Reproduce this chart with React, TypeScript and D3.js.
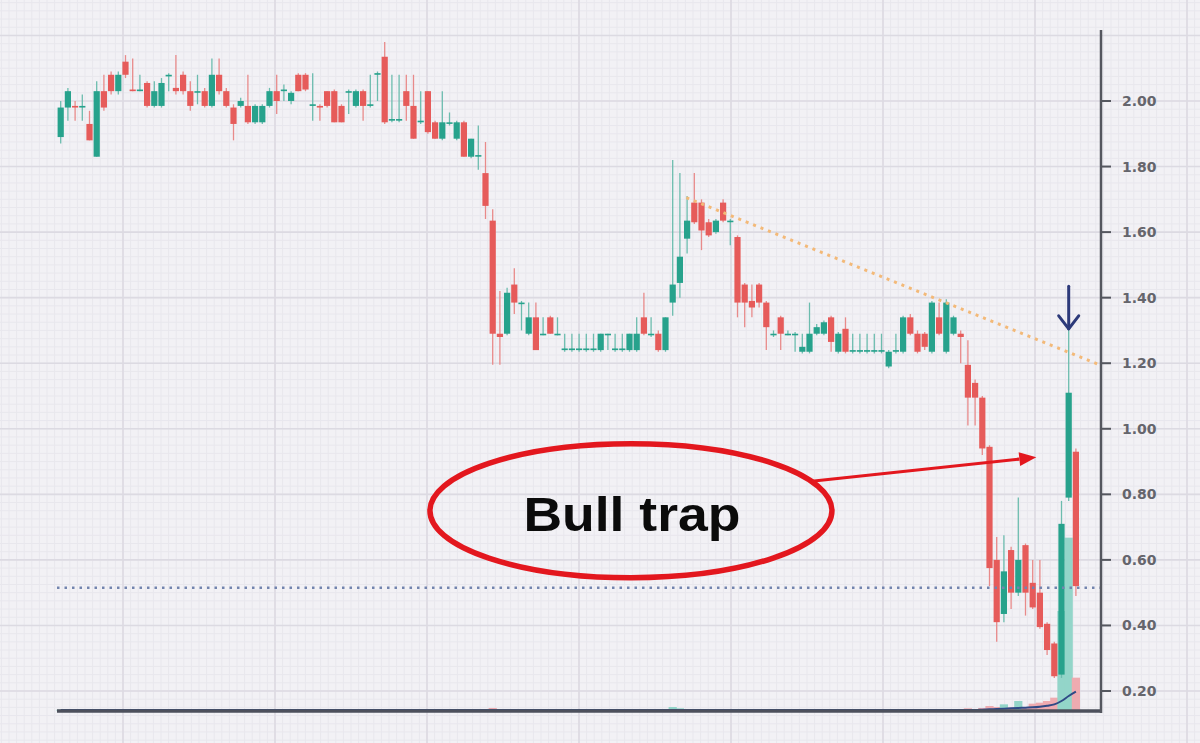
import * as d3 from "d3";

// one entry per trading day (index only, no dates on the chart)
const days = d3.range(142);

const opens = [
  1.89, 1.98, 1.985, 1.98, 1.93, 1.83, 2.03, 2.08, 2.03, 2.12,
  2.035, 2.03, 2.055, 1.985, 1.985, 2.075, 2.04, 2.08, 2.03, 2.03,
  2.03, 1.985, 2.08, 2.03, 1.98, 1.985, 1.985, 1.935, 1.935, 1.985,
  2.03, 2.03, 2.0, 2.08, 2.08, 1.985, 1.985, 2.03, 2.03, 1.985,
  2.03, 1.985, 2.03, 1.985, 2.08, 2.135, 1.94, 1.94, 2.03, 1.985,
  1.935, 2.03, 1.935, 1.885, 1.935, 1.885, 1.935, 1.83, 1.835, 1.78,
  1.635, 1.29, 1.29, 1.44, 1.385, 1.29, 1.34, 1.29, 1.34, 1.29,
  1.24, 1.24, 1.24, 1.24, 1.24, 1.24, 1.29, 1.24, 1.24, 1.24,
  1.24, 1.34, 1.29, 1.29, 1.24, 1.385, 1.445, 1.58, 1.69, 1.69,
  1.63, 1.6, 1.69, 1.635, 1.585, 1.44, 1.39, 1.44, 1.385, 1.29,
  1.34, 1.29, 1.29, 1.235, 1.235, 1.29, 1.29, 1.34, 1.235, 1.305,
  1.235, 1.235, 1.235, 1.235, 1.235, 1.19, 1.235, 1.235, 1.34, 1.29,
  1.29, 1.235, 1.34, 1.235, 1.29, 1.29, 1.195, 1.14, 1.095, 0.945,
  0.6, 0.435, 0.63, 0.5, 0.645, 0.53, 0.5, 0.405, 0.345, 0.25, 0.79, 0.93,
];
const highs = [
  2.0, 2.04, 2.0, 2.02, 1.97, 2.06, 2.08, 2.09, 2.09, 2.14,
  2.13, 2.08, 2.06, 2.06, 2.07, 2.085, 2.14, 2.09, 2.06, 2.08,
  2.04, 2.13, 2.13, 2.04, 1.99, 2.01, 2.08, 1.99, 1.99, 2.04,
  2.08, 2.05, 2.03, 2.085, 2.085, 2.085, 1.99, 2.03, 2.035, 1.99,
  2.035, 2.035, 2.035, 2.08, 2.09, 2.18, 2.08, 2.08, 2.08, 2.08,
  2.03, 2.03, 1.94, 2.03, 1.965, 1.94, 1.94, 1.885, 1.925, 1.875,
  1.67, 1.42, 1.43, 1.49, 1.39, 1.385, 1.385, 1.34, 1.345, 1.34,
  1.29, 1.29, 1.29, 1.29, 1.29, 1.29, 1.29, 1.29, 1.29, 1.29,
  1.34, 1.415, 1.34, 1.3, 1.34, 1.82, 1.78, 1.71, 1.78, 1.7,
  1.64, 1.64, 1.7, 1.64, 1.59, 1.445, 1.44, 1.445, 1.39, 1.3,
  1.345, 1.3, 1.295, 1.29, 1.385, 1.32, 1.33, 1.345, 1.295, 1.34,
  1.29, 1.29, 1.29, 1.29, 1.29, 1.24, 1.29, 1.345, 1.35, 1.3,
  1.295, 1.39, 1.385, 1.395, 1.345, 1.3, 1.27, 1.15, 1.1, 0.95,
  0.67, 0.675, 0.64, 0.79, 0.65, 0.6, 0.6, 0.41, 0.35, 0.78, 1.43, 0.94,
];
const lows = [
  1.87, 1.94, 1.94, 1.94, 1.88, 1.83, 1.97, 2.02, 2.02, 2.07,
  2.03, 2.03, 1.98, 1.98, 1.98, 2.03, 2.02, 2.02, 1.97, 1.99,
  1.98, 1.98, 2.02, 1.98, 1.88, 1.98, 1.93, 1.93, 1.93, 1.98,
  1.96, 2.0, 1.99, 2.03, 2.03, 1.94, 1.94, 1.98, 1.935, 1.935,
  1.96, 1.98, 1.94, 1.98, 2.0, 1.93, 1.935, 1.935, 1.94, 1.885,
  1.93, 1.9, 1.885, 1.88, 1.925, 1.88, 1.83, 1.825, 1.79, 1.64,
  1.195, 1.195, 1.285, 1.35, 1.3, 1.285, 1.24, 1.285, 1.29, 1.285,
  1.235, 1.235, 1.235, 1.235, 1.235, 1.235, 1.24, 1.235, 1.235, 1.235,
  1.235, 1.285, 1.28, 1.235, 1.235, 1.345, 1.4, 1.535, 1.625, 1.545,
  1.585, 1.595, 1.63, 1.56, 1.34, 1.31, 1.34, 1.37, 1.24, 1.28,
  1.24, 1.285, 1.235, 1.23, 1.23, 1.285, 1.285, 1.235, 1.23, 1.23,
  1.23, 1.23, 1.23, 1.23, 1.23, 1.185, 1.23, 1.23, 1.285, 1.23,
  1.24, 1.23, 1.285, 1.23, 1.285, 1.2, 1.01, 1.01, 0.92, 0.52,
  0.35, 0.41, 0.45, 0.49, 0.43, 0.45, 0.39, 0.31, 0.24, 0.24, 0.78, 0.49,
];
const closes = [
  1.98, 2.03, 1.98, 1.985, 1.88, 2.03, 1.98, 2.03, 2.08, 2.08,
  2.03, 2.035, 1.985, 2.03, 2.055, 2.08, 2.03, 2.03, 1.985, 2.03,
  1.985, 2.08, 2.03, 1.985, 1.93, 2.0, 1.935, 1.985, 1.985, 2.03,
  2.0, 2.035, 2.025, 2.03, 2.035, 1.99, 1.98, 1.985, 1.935, 1.935,
  2.03, 2.03, 1.985, 1.99, 2.085, 1.935, 1.945, 1.945, 1.985, 1.885,
  1.94, 1.905, 1.885, 1.935, 1.935, 1.935, 1.83, 1.885, 1.835, 1.68,
  1.29, 1.28, 1.415, 1.385, 1.385, 1.34, 1.24, 1.29, 1.29, 1.29,
  1.245, 1.245, 1.245, 1.245, 1.245, 1.29, 1.29, 1.245, 1.245, 1.29,
  1.29, 1.29, 1.29, 1.24, 1.34, 1.44, 1.525, 1.635, 1.63, 1.605,
  1.59, 1.635, 1.635, 1.635, 1.385, 1.385, 1.37, 1.385, 1.31, 1.29,
  1.29, 1.29, 1.29, 1.25, 1.29, 1.31, 1.325, 1.265, 1.29, 1.235,
  1.24, 1.24, 1.24, 1.24, 1.24, 1.235, 1.24, 1.34, 1.29, 1.235,
  1.25, 1.385, 1.29, 1.385, 1.34, 1.28, 1.095, 1.095, 0.94, 0.575,
  0.41, 0.565, 0.5, 0.6, 0.5, 0.455, 0.395, 0.325, 0.245, 0.71, 1.11, 0.52,
];
const volumes = [
  0.4, 0.3, 0.2, 0.2, 0.3, 0.5, 0.3, 0.3, 0.3, 0.4,
  0.3, 0.2, 0.3, 0.3, 0.3, 0.2, 0.4, 0.3, 0.3, 0.2,
  0.3, 0.4, 0.3, 0.3, 0.4, 0.2, 0.3, 0.3, 0.3, 0.3,
  0.3, 0.2, 0.2, 0.3, 0.3, 0.2, 0.2, 0.3, 0.3, 0.3,
  0.2, 0.3, 0.3, 0.2, 0.3, 0.6, 0.2, 0.2, 0.3, 0.4,
  0.2, 0.3, 0.3, 0.3, 0.2, 0.3, 0.4, 0.3, 0.3, 0.6,
  0.9, 0.5, 0.5, 0.4, 0.3, 0.3, 0.4, 0.2, 0.3, 0.2,
  0.1, 0.1, 0.1, 0.1, 0.1, 0.2, 0.1, 0.1, 0.1, 0.2,
  0.2, 0.4, 0.2, 0.2, 0.3, 1.2, 0.8, 0.6, 0.5, 0.5,
  0.4, 0.3, 0.4, 0.3, 0.6, 0.4, 0.3, 0.3, 0.4, 0.2,
  0.3, 0.1, 0.2, 0.2, 0.3, 0.2, 0.2, 0.3, 0.2, 0.3,
  0.1, 0.1, 0.1, 0.1, 0.1, 0.2, 0.1, 0.3, 0.3, 0.2,
  0.2, 0.4, 0.3, 0.4, 0.3, 0.3, 0.8, 0.6, 0.9, 1.5,
  1.2, 2.0, 1.0, 3.0, 1.0, 2.2, 2.5, 3.0, 4.0, 30, 52, 10,
];
const volumeAvg = [
  0.3, 0.3, 0.3, 0.3, 0.3, 0.3, 0.3, 0.3, 0.3, 0.3,
  0.3, 0.3, 0.3, 0.3, 0.3, 0.3, 0.3, 0.3, 0.3, 0.3,
  0.3, 0.3, 0.3, 0.3, 0.3, 0.3, 0.3, 0.3, 0.3, 0.3,
  0.3, 0.3, 0.3, 0.3, 0.3, 0.3, 0.3, 0.3, 0.3, 0.3,
  0.3, 0.3, 0.3, 0.3, 0.3, 0.3, 0.3, 0.3, 0.3, 0.3,
  0.3, 0.3, 0.3, 0.3, 0.3, 0.3, 0.3, 0.3, 0.3, 0.3,
  0.3, 0.3, 0.3, 0.3, 0.3, 0.3, 0.3, 0.3, 0.3, 0.3,
  0.3, 0.3, 0.3, 0.3, 0.3, 0.3, 0.3, 0.3, 0.3, 0.3,
  0.3, 0.3, 0.3, 0.3, 0.3, 0.3, 0.3, 0.3, 0.3, 0.3,
  0.3, 0.3, 0.3, 0.3, 0.3, 0.3, 0.3, 0.3, 0.3, 0.3,
  0.3, 0.3, 0.3, 0.3, 0.3, 0.3, 0.3, 0.3, 0.3, 0.3,
  0.3, 0.3, 0.3, 0.3, 0.3, 0.3, 0.3, 0.3, 0.3, 0.3,
  0.3, 0.3, 0.3, 0.3, 0.3, 0.3, 0.3, 0.3, 0.4, 0.5,
  0.6, 0.7, 0.8, 0.9, 1.0, 1.1, 1.3, 1.6, 2.0, 3.0, 4.5, 5.8,
];

const priceTicks = [0.2, 0.4, 0.6, 0.8, 1.0, 1.2, 1.4, 1.6, 1.8, 2.0];
const supportLevel = 0.515;
const trendFrom = { day: 86.9, price: 1.705 };
const trendTo = { day: 144.3, price: 1.195 };
const trapDay = 140;
const trapArrow = { top: 1.435, tip: 1.305 };
const callout = { label: "Bull trap", day: 79.2, price: 0.75 };
const calloutArrow = { fromDay: 104.3, fromPrice: 0.84, toDay: 135.5, toPrice: 0.913 };

const W = 1200;
const H = 743;
const UP = "#27a28c";
const DOWN = "#e65b5a";
const RED = "#e3171e";

export default function App() {
  const x = d3.scaleBand<number>().domain(days).range([57.1, 1079.5]).padding(0);
  const step = x.step();
  const xAt = (d: number) => (x(0) ?? 0) + step * (d + 0.5);
  const y = d3.scaleLinear().domain([0.2, 2.0]).range([691, 101]);
  const yVol = d3.scaleLinear().domain([0, 60]).range([711, 511]);
  const bodyW = 6.2;

  const minorH = d3.range(-0.05, 2.32, 0.025);
  const minorV = d3.range(1.4, W, 7.6);
  const majorH = d3.range(0.2, 2.3, 0.2);
  const majorV = d3.range(123, W, 152);

  const avgLine = d3
    .line<number>()
    .x((_, i) => xAt(i))
    .y((v) => yVol(v))
    .curve(d3.curveMonotoneX);

  const trapX = xAt(trapDay);
  const tipY = y(trapArrow.tip);

  const cx = xAt(callout.day);
  const cy = y(callout.price);

  const ax1 = xAt(calloutArrow.fromDay);
  const ay1 = y(calloutArrow.fromPrice);
  const ax2 = xAt(calloutArrow.toDay);
  const ay2 = y(calloutArrow.toPrice);
  const ang = Math.atan2(ay2 - ay1, ax2 - ax1);
  const headLen = 17;
  const headHalf = 7;
  const bx = ax2 - headLen * Math.cos(ang);
  const by = ay2 - headLen * Math.sin(ang);
  const head = [
    [ax2, ay2],
    [bx - headHalf * Math.sin(ang), by + headHalf * Math.cos(ang)],
    [bx + headHalf * Math.sin(ang), by - headHalf * Math.cos(ang)],
  ]
    .map((p) => p.join(","))
    .join(" ");

  return (
    <div style={{ position: "absolute", left: 0, top: 0 }}>
      <svg width={W} height={H} style={{ display: "block" }}>
        <rect width={W} height={H} fill="#f2f1f5" />

        {/* fine grid */}
        <g stroke="#e8e7ed" strokeWidth={1}>
          {minorH.map((v, i) => (
            <line key={"mh" + i} x1={0} x2={W} y1={y(v)} y2={y(v)} />
          ))}
          {minorV.map((v, i) => (
            <line key={"mv" + i} x1={v} x2={v} y1={0} y2={H} />
          ))}
        </g>
        <g stroke="#dcdae2" strokeWidth={1.6}>
          {majorH.map((v, i) => (
            <line key={"h" + i} x1={0} x2={W} y1={y(v)} y2={y(v)} />
          ))}
          {majorV.map((v, i) => (
            <line key={"v" + i} x1={v} x2={v} y1={0} y2={H} />
          ))}
        </g>

        {/* volume */}
        <g>
          {days.map((d) => (
            <rect
              key={"vol" + d}
              x={xAt(d) - bodyW / 2 - 1}
              y={yVol(volumes[d])}
              width={bodyW + 2}
              height={yVol(0) - yVol(volumes[d])}
              fill={closes[d] >= opens[d] ? "#93d5c9" : "#eeabb0"}
            />
          ))}
        </g>

        {/* candles */}
        <g>
          {days.map((d) => {
            const o = opens[d];
            const c = closes[d];
            const up = c >= o;
            const col = up ? UP : DOWN;
            const cxd = xAt(d);
            const top = y(Math.max(o, c));
            const h = Math.max(1.6, Math.abs(y(o) - y(c)));
            return (
              <g key={"c" + d}>
                <line
                  x1={cxd}
                  x2={cxd}
                  y1={y(highs[d])}
                  y2={y(lows[d])}
                  stroke={up ? "#6cbcae" : "#e88a8a"}
                  strokeWidth={1.3}
                />
                <rect x={cxd - bodyW / 2} y={top} width={bodyW} height={h} fill={col} />
              </g>
            );
          })}
        </g>

        {/* support level */}
        <line
          x1={57}
          x2={1100}
          y1={y(supportLevel)}
          y2={y(supportLevel)}
          stroke="#7284ae"
          strokeWidth={2.6}
          strokeDasharray="2.5 5"
        />

        {/* falling trendline */}
        <line
          x1={xAt(trendFrom.day)}
          y1={y(trendFrom.price)}
          x2={xAt(trendTo.day)}
          y2={y(trendTo.price)}
          stroke="#f3b978"
          strokeWidth={3}
          strokeDasharray="3 5"
        />

        {/* volume average, then the baseline over its flat part */}
        <path d={avgLine(volumeAvg) ?? ""} fill="none" stroke="#2f4a86" strokeWidth={2} />
        <line x1={57} x2={1101} y1={711} y2={711} stroke="#4d505c" strokeWidth={3.5} />

        {/* price axis */}
        <line x1={1101} x2={1101} y1={30} y2={713} stroke="#55575f" strokeWidth={2.5} />
        {priceTicks.map((t) => (
          <g key={"t" + t}>
            <line x1={1101} x2={1111} y1={y(t)} y2={y(t)} stroke="#55575f" strokeWidth={2} />
            <text
              x={1122}
              y={y(t)}
              dy="0.36em"
              fontFamily="DejaVu Sans, sans-serif"
              fontWeight={700}
              fontSize={14}
              fill="#65656c"
            >
              {t.toFixed(2)}
            </text>
          </g>
        ))}

        {/* arrow over the trap candle */}
        <g stroke="#2d3a7a" strokeWidth={3} fill="none" strokeLinecap="round" strokeLinejoin="round">
          <line x1={trapX} x2={trapX} y1={y(trapArrow.top)} y2={tipY} />
          <polyline points={`${trapX - 10},${tipY - 13} ${trapX},${tipY} ${trapX + 10},${tipY - 13}`} />
        </g>

        {/* callout */}
        <ellipse cx={cx} cy={cy} rx={201} ry={67} fill="none" stroke={RED} strokeWidth={5.5} />
        <text
          x={cx + 1}
          y={cy + 20}
          textAnchor="middle"
          fontFamily="Liberation Sans, Arial, sans-serif"
          fontWeight={700}
          fontSize={49}
          fill="#0b0b0b"
          textLength={217}
          lengthAdjust="spacingAndGlyphs"
        >
          {callout.label}
        </text>
        <line x1={ax1} y1={ay1} x2={bx} y2={by} stroke={RED} strokeWidth={3.2} />
        <polygon points={head} fill={RED} />
      </svg>
    </div>
  );
}
